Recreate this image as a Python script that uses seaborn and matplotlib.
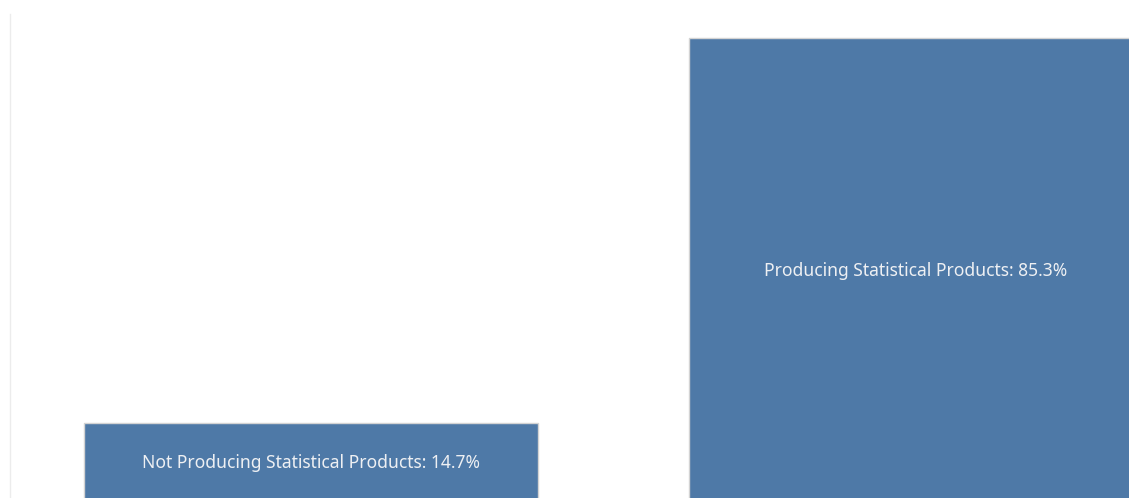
import matplotlib
matplotlib.use("Agg")
import matplotlib.pyplot as plt
import seaborn as sns
import pandas as pd

categories = ["Not Producing Statistical Products", "Producing Statistical Products"]
shares = [14.7, 85.3]

df = pd.DataFrame({"status": categories, "share": shares})

sns.set_theme(style="white")
plt.rcParams["font.family"] = ["Noto Sans", "DejaVu Sans"]

W, H = 1129, 498
fig = plt.figure(figsize=(W / 100, H / 100), dpi=100)
# axes run from x=10 to the right edge, top at y=14, baseline slightly below the bottom edge
left_px, top_px, base_px = 10, 14, 503.2
ax = fig.add_axes([left_px / W, (H - base_px) / H, (W - left_px) / W, (base_px - top_px) / H])

sns.barplot(data=df, x="status", y="share", color="#4e79a7", saturation=1,
            width=0.75, edgecolor="#d3d3d3", linewidth=1.0, ax=ax)

ax.set_xlim(-0.498, 1.352)
ax.set_ylim(0, 89.7)

for i, (cat, val) in enumerate(zip(categories, shares)):
    ax.text(i, val / 2, f"{cat}: {val}%", ha="center", va="center",
            color="#eef0f3", fontsize=12.6)

ax.set_xticks([])
ax.set_yticks([])
ax.set_xlabel("")
ax.set_ylabel("")
for s in ["top", "right", "bottom"]:
    ax.spines[s].set_visible(False)
ax.spines["left"].set_color("#ececec")
ax.spines["left"].set_linewidth(1.0)

fig.savefig("out.png", dpi=100)
